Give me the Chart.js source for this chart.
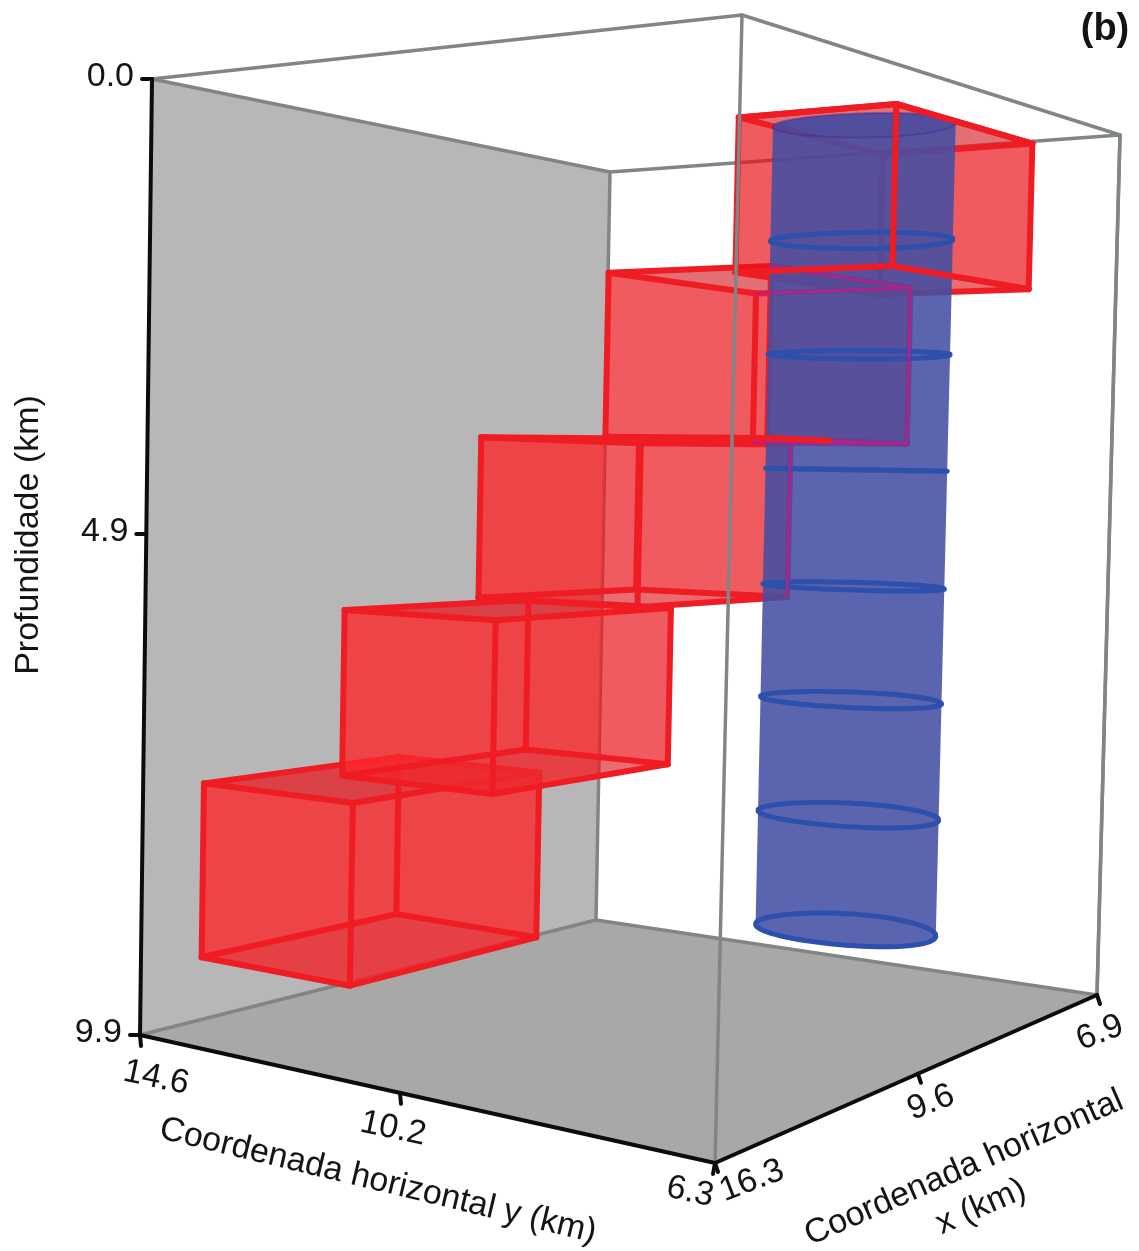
<!DOCTYPE html>
<html>
<head>
<meta charset="utf-8">
<title>Profundidade</title>
<script src="https://cdn.jsdelivr.net/npm/chart.js@4/dist/chart.umd.js"></script>
<style>
  body { margin: 0; background: #fff; }
  canvas { display: block; }
</style>
</head>
<body>
<canvas id="chart" width="1139" height="1251"></canvas>
<script>
// tick values of the three axes (km)
const yTicks = [14.6, 10.2, 6.3];
const xTicks = [16.3, 9.6, 6.9];
const depthTicks = [0.0, 4.9, 9.9];

// the five red blocks, bottom one first (km)
const blockYFar = [14.6, 14.37, 14.04, 10.90, 9.02];
const blockYNear = [11.89, 11.58, 11.08, 8.50, 6.99];
const blockXFar = [13.93, 10.61, 8.62, 9.36, 9.32];
const blockXNear = [9.38, 7.78, 6.82, 7.32, 7.26];
const blockTop = [7.52, 5.78, 3.76, 1.88, 0.17];
const blockBase = [9.28, 7.61, 5.70, 3.76, 1.93];

// the blue cylinder (km)
const cylinderY = 8.87;
const cylinderX = 7.65;
const cylinderRadiusY = 1.2;
const cylinderRadiusX = 0.47;
const ringDepths = [-0.08, 1.34, 2.72, 4.08, 5.43, 6.72, 8.0, 9.25];

// where the eight corners of the box land on the page, and how the view foreshortens each axis
const viewTop = [[152, 79], [742, 15], [610, 172], [1120, 135]];
const viewBottom = [[140, 1035], [715, 1163], [596, 920], [1097, 995]];
const viewBend = { y: 1.367, x: 2.19, depth: 1.079 };

const yFirst = yTicks[0], yLast = yTicks[2];
const xFirst = xTicks[0], xLast = xTicks[2];
const depthFirst = depthTicks[0], depthLast = depthTicks[2];

function bend(t, k) {
    return t / (t + k * (1 - t));
}

function bilinear(c, s, r, i) {
    return c[0][i] * (1 - s) * (1 - r) + c[1][i] * s * (1 - r) + c[2][i] * (1 - s) * r + c[3][i] * s * r;
}

function project(y, x, depth) {
    const s = bend((yFirst - y) / (yFirst - yLast), viewBend.y);
    const r = bend((xFirst - x) / (xFirst - xLast), viewBend.x);
    const q = bend((depth - depthFirst) / (depthLast - depthFirst), viewBend.depth);
    return {
        x: bilinear(viewTop, s, r, 0) * (1 - q) + bilinear(viewBottom, s, r, 0) * q,
        y: bilinear(viewTop, s, r, 1) * (1 - q) + bilinear(viewBottom, s, r, 1) * q
    };
}

const datasets = [];

function addLine(points, color, width) {
    datasets.push({
        data: points,
        showLine: true,
        fill: false,
        borderColor: color,
        borderWidth: width,
        borderCapStyle: 'round',
        borderJoinStyle: 'round',
        pointRadius: 0,
        tension: 0,
        clip: false
    });
}

function addShape(points, color) {
    datasets.push({
        data: points.concat([points[0]]),
        showLine: true,
        fill: 'shape',
        backgroundColor: color,
        borderWidth: 0,
        borderColor: 'rgba(0,0,0,0)',
        pointRadius: 0,
        tension: 0,
        clip: false
    });
}

const p = (y, x, d) => project(y, x, d);

// the red reads stronger over the grey wall than over the white, so the fill changes at the wall's edge
const ctx2d = document.getElementById('chart').getContext('2d');
function acrossWallEdge(overWall, overWhite) {
    const a = p(yFirst, xLast, depthFirst), b = p(yFirst, xLast, depthLast);
    const len = Math.hypot(b.x - a.x, b.y - a.y);
    const nx = (b.y - a.y) / len, ny = (a.x - b.x) / len;
    const g = ctx2d.createLinearGradient(a.x - nx, a.y - ny, a.x + nx, a.y + ny);
    g.addColorStop(0, overWall);
    g.addColorStop(1, overWhite);
    return g;
}

const wireColor = '#808686';
const blackAxis = '#0c0c0c';
const sideFill = acrossWallEdge('rgba(251,39,44,0.55)', 'rgba(232,16,22,0.44)');
const capFill = acrossWallEdge('rgba(215,42,48,0.62)', 'rgba(190,40,50,0.34)');
const edgeRed = 'rgb(240,28,36)';
const edgeThrough = 'rgba(185,30,135,0.85)';
const edgeWidth = 6;

// back of the box
addShape([p(yFirst, xFirst, depthFirst), p(yFirst, xLast, depthFirst), p(yFirst, xLast, depthLast), p(yFirst, xFirst, depthLast)], '#b7b7b7');
addShape([p(yFirst, xFirst, depthLast), p(yFirst, xLast, depthLast), p(yLast, xLast, depthLast), p(yLast, xFirst, depthLast)], '#a8a9a7');
addLine([p(yFirst, xFirst, depthFirst), p(yFirst, xLast, depthFirst), p(yFirst, xLast, depthLast), p(yFirst, xFirst, depthLast)], wireColor, 3.5);
addLine([p(yFirst, xLast, depthLast), p(yLast, xLast, depthLast), p(yLast, xLast, depthFirst), p(yFirst, xLast, depthFirst)], wireColor, 3.5);
addLine([p(yFirst, xFirst, depthFirst), p(yLast, xFirst, depthFirst), p(yLast, xLast, depthFirst)], wireColor, 3.5);

// corners of block i: L, F, R, B going round
function corner(i, name, depth) {
    const y = (name === 'F' || name === 'R') ? blockYNear[i] : blockYFar[i];
    const x = (name === 'R' || name === 'B') ? blockXNear[i] : blockXFar[i];
    return p(y, x, depth);
}

function blockEdge(i, a, b, depth, color, width) {
    addLine([corner(i, a, depth), corner(i, b, depth)], color, width);
}

function blockPost(i, a, color, width) {
    addLine([corner(i, a, blockTop[i]), corner(i, a, blockBase[i])], color, width);
}

const sides = [['L', 'F'], ['F', 'R'], ['R', 'B'], ['B', 'L']];

blockTop.forEach((_, i) => {
    addShape(['L', 'F', 'R', 'B'].map(n => corner(i, n, blockBase[i])), capFill);
    sides.forEach(([a, b]) => {
        addShape([corner(i, a, blockTop[i]), corner(i, b, blockTop[i]), corner(i, b, blockBase[i]), corner(i, a, blockBase[i])], sideFill);
    });
    addShape(['L', 'F', 'R', 'B'].map(n => corner(i, n, blockTop[i])), capFill);
    sides.forEach(([a, b]) => {
        blockEdge(i, a, b, blockTop[i], edgeRed, edgeWidth);
        blockEdge(i, a, b, blockBase[i], edgeRed, edgeWidth);
    });
    ['L', 'F', 'R', 'B'].forEach(n => blockPost(i, n, edgeRed, edgeWidth));
});

// cylinder
function ring(depth) {
    const pts = [];
    for (let a = 0; a < 72; a++) {
        const t = a * Math.PI / 36;
        pts.push(p(cylinderY + cylinderRadiusY * Math.cos(t), cylinderX + cylinderRadiusX * Math.sin(t), depth));
    }
    return pts;
}

// walk round a ring from its leftmost to its rightmost point along the upper or lower side
function arc(pts, upper) {
    let lo = 0, hi = 0;
    pts.forEach((q, i) => {
        if (q.x < pts[lo].x) lo = i;
        if (q.x > pts[hi].x) hi = i;
    });
    const n = pts.length;
    const forward = [], backward = [];
    for (let i = lo; ; i = (i + 1) % n) { forward.push(pts[i]); if (i === hi) break; }
    for (let i = lo; ; i = (i - 1 + n) % n) { backward.push(pts[i]); if (i === hi) break; }
    const mean = a => a.reduce((sum, q) => sum + q.y, 0) / a.length;
    const forwardIsUpper = mean(forward) < mean(backward);
    return forwardIsUpper === upper ? forward : backward;
}

const topRing = ring(ringDepths[0]);
const bottomRing = ring(ringDepths[ringDepths.length - 1]);
addShape(arc(topRing, true).concat(arc(bottomRing, false).reverse()), 'rgba(67,79,164,0.88)');
addShape(topRing, 'rgba(60,40,140,0.12)');
ringDepths.forEach((d, i) => {
    const pts = ring(d);
    addLine(pts.concat([pts[0]]), i === 0 ? 'rgba(60,45,150,0.45)' : 'rgb(45,80,172)', i === 0 ? 2 : 5);
});

// block lines that show through the cylinder, and the ones in front of it
addLine([corner(2, 'R', blockTop[2]), corner(2, 'R', blockBase[2])], edgeThrough, 3);
[['F', 'R'], ['R', 'B']].forEach(([a, b]) => {
    blockEdge(3, a, b, blockTop[3], edgeThrough, 3);
    blockEdge(3, a, b, blockBase[3], edgeThrough, 3);
});
blockPost(3, 'R', edgeThrough, 3);
addLine([corner(3, 'F', blockBase[3]), p(blockYNear[3], 8.35, blockBase[3])], edgeRed, edgeWidth);
[['L', 'F'], ['F', 'R']].forEach(([a, b]) => {
    blockEdge(4, a, b, blockTop[4], edgeRed, edgeWidth);
    blockEdge(4, a, b, blockBase[4], edgeRed, edgeWidth);
});
blockPost(4, 'F', edgeRed, edgeWidth);

// front edges of the box and the axes
addLine([p(yLast, xFirst, depthFirst), p(yLast, xFirst, depthLast)], wireColor, 3.5);
addLine([p(yLast, xLast, depthFirst), p(yLast, xLast, depthLast)], wireColor, 3.5);
addLine([p(yFirst, xFirst, depthFirst), p(yFirst, xFirst, depthLast)], blackAxis, 4);
addLine([p(yFirst, xFirst, depthLast), p(yLast, xFirst, depthLast)], blackAxis, 4);
addLine([p(yLast, xFirst, depthLast), p(yLast, xLast, depthLast)], blackAxis, 4);

function tickTo(point, dx, dy) {
    return [point, { x: point.x + dx, y: point.y + dy }];
}
depthTicks.forEach(d => addLine(tickTo(p(yFirst, xFirst, d), -10, 0), blackAxis, 4));
yTicks.forEach((y, i) => addLine(tickTo(p(y, xFirst, depthLast), i === 2 ? -2 : 1, 11), blackAxis, 4));
xTicks.forEach(x => addLine(tickTo(p(yLast, x, depthLast), 3, 9), blackAxis, 4));

// Chart.js paints the first dataset on top, so give later ones a lower order
datasets.forEach((d, i) => { d.order = -i; });

const labelFont = '34px "Liberation Sans", Arial, sans-serif';
const yOffsets = [[16, 43], [-7, 36], [-25, 29]];
const xOffsets = [[37, 18], [13, 29], [3, 38]];

const textPlugin = {
    id: 'boxText',
    afterDraw(chart) {
        const ctx = chart.ctx;
        const put = (text, x, y, deg, font, align) => {
            ctx.save();
            ctx.translate(x, y);
            ctx.rotate(deg * Math.PI / 180);
            ctx.font = font || labelFont;
            ctx.fillStyle = '#141414';
            ctx.textAlign = align || 'center';
            ctx.textBaseline = 'middle';
            ctx.fillText(text, 0, 0);
            ctx.restore();
        };
        depthTicks.forEach(d => {
            const q = p(yFirst, xFirst, d);
            put(d.toFixed(1), q.x - 18, q.y - 2, 0, labelFont, 'right');
        });
        yTicks.forEach((y, i) => {
            const q = p(y, xFirst, depthLast);
            put(y.toFixed(1), q.x + yOffsets[i][0], q.y + yOffsets[i][1], 12);
        });
        xTicks.forEach((x, i) => {
            const q = p(yLast, x, depthLast);
            put(x.toFixed(1), q.x + xOffsets[i][0], q.y + xOffsets[i][1], -21);
        });
        put('Profundidade (km)', 29, 535, -90);
        put('Coordenada horizontal y (km)', 378, 1181, 13.5);
        put('Coordenada horizontal', 964, 1168, -23.6);
        put('x (km)', 981, 1207, -23.6);
        put('(b)', 1105, 30, 0, 'bold 38px "Liberation Sans", Arial, sans-serif');
    }
};

new Chart(document.getElementById('chart'), {
    type: 'scatter',
    data: { datasets: datasets },
    options: {
        responsive: false,
        animation: false,
        layout: { padding: 0 },
        plugins: { legend: { display: false }, tooltip: { enabled: false } },
        scales: {
            x: { type: 'linear', min: 0, max: 1139, display: false },
            y: { type: 'linear', min: 0, max: 1251, reverse: true, display: false }
        }
    },
    plugins: [textPlugin]
});
</script>
</body>
</html>
